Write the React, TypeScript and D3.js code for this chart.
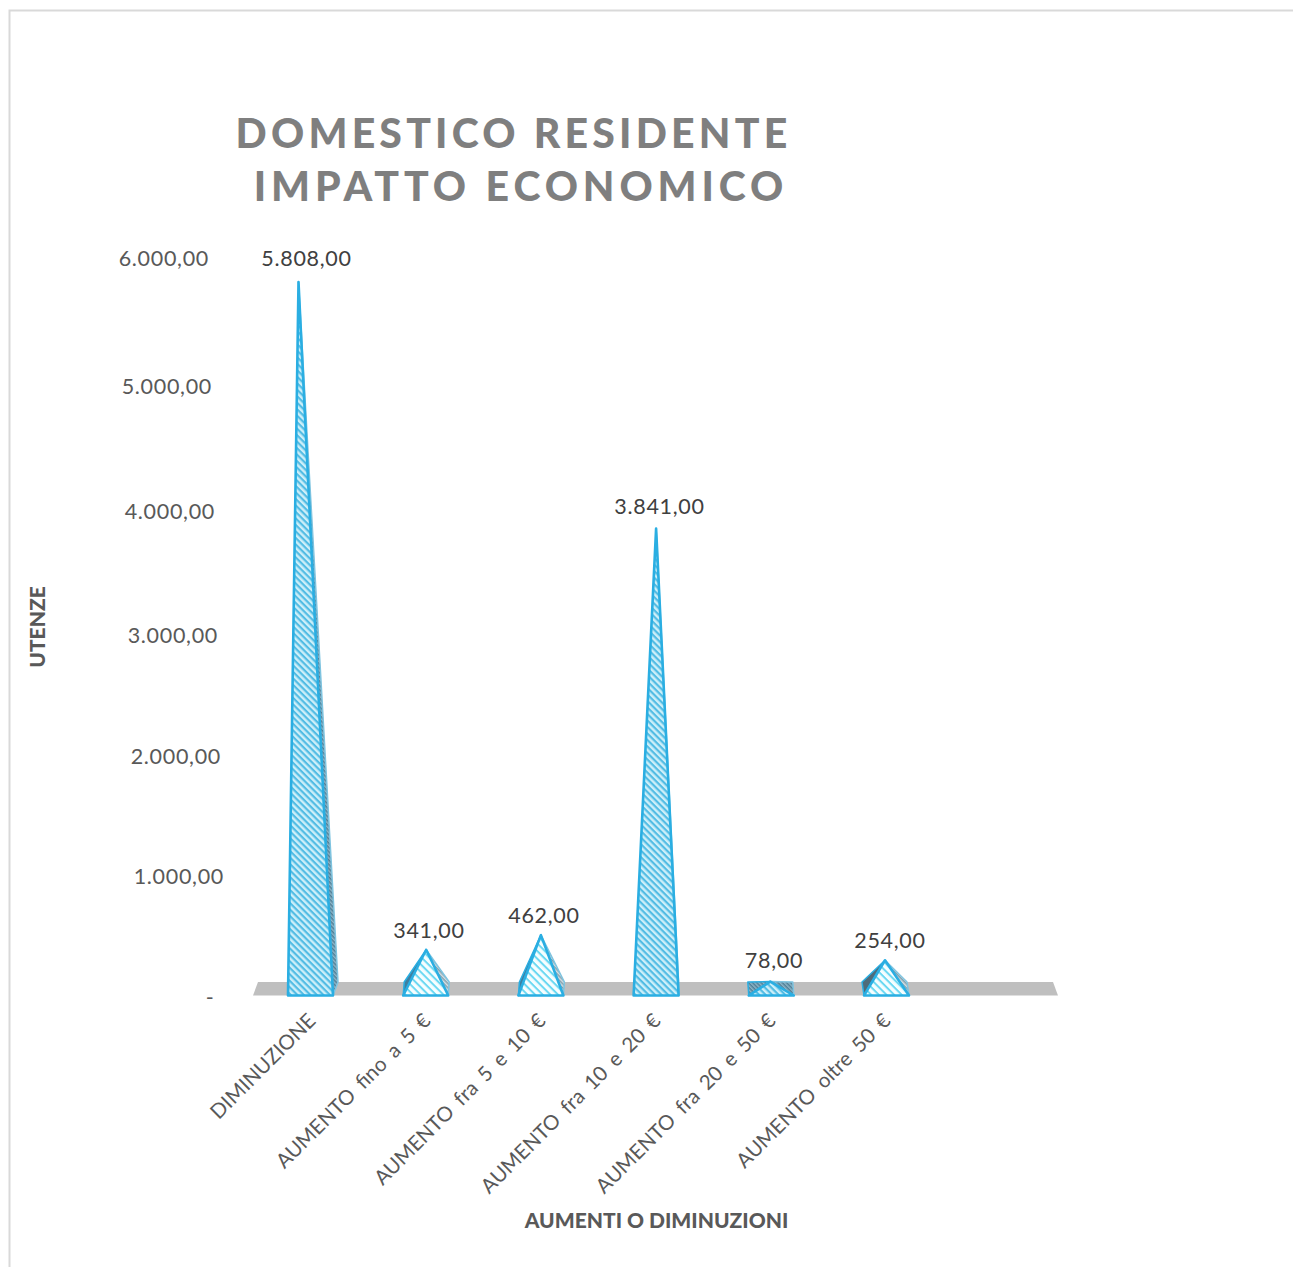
import React from "react";
import * as d3 from "d3";

const categories = ["DIMINUZIONE", "AUMENTO fino a 5 €", "AUMENTO fra 5 e 10 €", "AUMENTO fra 10 e 20 €", "AUMENTO fra 20 e 50 €", "AUMENTO oltre 50 €"];
const values = [5808, 341, 462, 3841, 78, 254];
const valueLabels = ["5.808,00", "341,00", "462,00", "3.841,00", "78,00", "254,00"];
const tickValues = [0, 1000, 2000, 3000, 4000, 5000, 6000];
const tickLabels = ["-", "1.000,00", "2.000,00", "3.000,00", "4.000,00", "5.000,00", "6.000,00"];
const titleLines = ["DOMESTICO RESIDENTE", "IMPATTO ECONOMICO"];

const FONT = "Lato, 'Open Sans', sans-serif";
const W = 1293, H = 1267;
const FRONT_Y = 995.5, BACK_Y = 982;

// The source is a 3D chart with a slight perspective, hence piecewise scales
const yApex = d3.scaleLinear().domain(tickValues).range([991, 870, 750, 630, 509.5, 383, 258]);
const yTick = d3.scaleLinear().domain(tickValues).range([998, 877, 757, 636, 512, 387, 259]);
const xTickRight = d3.scaleLinear().domain([1000, 6000]).range([224, 209]);
const xCenter = d3.scaleLinear().domain([0, 5]).range([310.5, 886.5]);

const HALF = 22.5;
const apexShift = [-12, 0.5, 0, 0, -1, -1.5];
const backShift = [5, 1, 1, 0, -1, -2];
const sideFill = ["url(#sideHatch)", "url(#sideLight)", "url(#sideLight)", "url(#sideHatch)", "url(#sideHatch)", "url(#sideLight)"];
const frontFill = ["url(#dense)", "url(#light)", "url(#light)", "url(#dense)", "url(#dense)", "url(#light)"];
const showLeft = [false, true, true, false, true, true];
const leftFill = ["none", "#3f7fa0", "#3f7fa0", "none", "url(#sideHatch)", "#4e6b7a"];

const STROKE = "#2aaee2";
const pts = (p: [number, number][]) => p.map((q) => q.join(",")).join(" ");

export default function App() {
  return (
    <svg width={W} height={H} viewBox={`0 0 ${W} ${H}`} style={{ position: "absolute", left: 0, top: 0, background: "#fff" }}>
      <defs>
        <pattern id="dense" width="4.6" height="4.6" patternUnits="userSpaceOnUse" patternTransform="rotate(45)">
          <rect width="4.6" height="4.6" fill="#cdeff9" />
          <rect width="4.6" height="2.2" fill="#52bce4" />
        </pattern>
        <pattern id="light" width="5.4" height="5.4" patternUnits="userSpaceOnUse" patternTransform="rotate(45)">
          <rect width="5.4" height="5.4" fill="#f6feff" />
          <rect width="5.4" height="2" fill="#6ad8f2" />
        </pattern>
        <pattern id="sideHatch" width="3" height="3" patternUnits="userSpaceOnUse" patternTransform="rotate(45)">
          <rect width="3" height="3" fill="#8fb6c8" />
          <rect width="3" height="1.5" fill="#4f7f96" />
        </pattern>
        <pattern id="sideLight" width="3" height="3" patternUnits="userSpaceOnUse" patternTransform="rotate(45)">
          <rect width="3" height="3" fill="#d5e0e5" />
          <rect width="3" height="1.5" fill="#82a0ae" />
        </pattern>
      </defs>

      <path d={`M9.5 ${H}V10.5H${W}`} fill="none" stroke="#d9d9d9" strokeWidth={2} />

      {titleLines.map((t, i) => (
        <text key={t} x={i === 0 ? 513.5 : 521} y={148 + i * 53} textAnchor="middle" fill="#7f7f7f"
          fontFamily={FONT} fontWeight={900} fontSize={41} letterSpacing={i === 0 ? 4.2 : 4.9}>{t}</text>
      ))}

      <polygon points={pts([[253, FRONT_Y], [1058, FRONT_Y], [1053, BACK_Y], [258, BACK_Y]])} fill="#bfbfbf" />

      {tickValues.map((v, i) => (
        <text key={v} x={v === 0 ? 210 : xTickRight(v)} y={yTick(v) + 7} textAnchor={v === 0 ? "middle" : "end"}
          fontFamily={FONT} fontSize={21.5} letterSpacing={0.7} fill="#595959">{tickLabels[i]}</text>
      ))}

      {values.map((v, i) => {
        const c = xCenter(i);
        const apex: [number, number] = [c + apexShift[i], yApex(v)];
        const fl: [number, number] = [c - HALF, FRONT_Y];
        const fr: [number, number] = [c + HALF, FRONT_Y];
        const bl: [number, number] = [c - HALF + backShift[i], BACK_Y];
        const br: [number, number] = [c + HALF + backShift[i], BACK_Y];
        return (
          <g key={categories[i]} strokeLinejoin="round">
            {showLeft[i] && <polygon points={pts([fl, bl, apex])} fill={leftFill[i]} stroke={STROKE} strokeWidth={1.5} />}
            <polygon points={pts([fr, br, apex])} fill={sideFill[i]} stroke="#7fc4e0" strokeWidth={1.5} />
            <polygon points={pts([fl, fr, apex])} fill={frontFill[i]} stroke={STROKE} strokeWidth={2.6} />
            <text x={[306.5, 429, 544, 659.5, 774, 890][i]} y={[266, 938, 923, 514, 968, 948][i]} textAnchor="middle"
              fontFamily={FONT} fontSize={21.5} letterSpacing={0.7} fill="#404040">{valueLabels[i]}</text>
            <text transform={`translate(${[317, 432, 547, 662, 777, 892][i]},${1022}) rotate(-45)`} textAnchor="end"
              fontFamily={FONT} fontSize={20.5} wordSpacing={4} fill="#595959">{categories[i]}</text>
          </g>
        );
      })}

      <text transform="translate(45,627) rotate(-90)" textAnchor="middle" fontFamily={FONT} fontWeight={900} fontSize={21} fill="#595959">UTENZE</text>
      <text x={656.5} y={1228} textAnchor="middle" fontFamily={FONT} fontWeight={900} fontSize={21} fill="#595959">AUMENTI O DIMINUZIONI</text>
    </svg>
  );
}
